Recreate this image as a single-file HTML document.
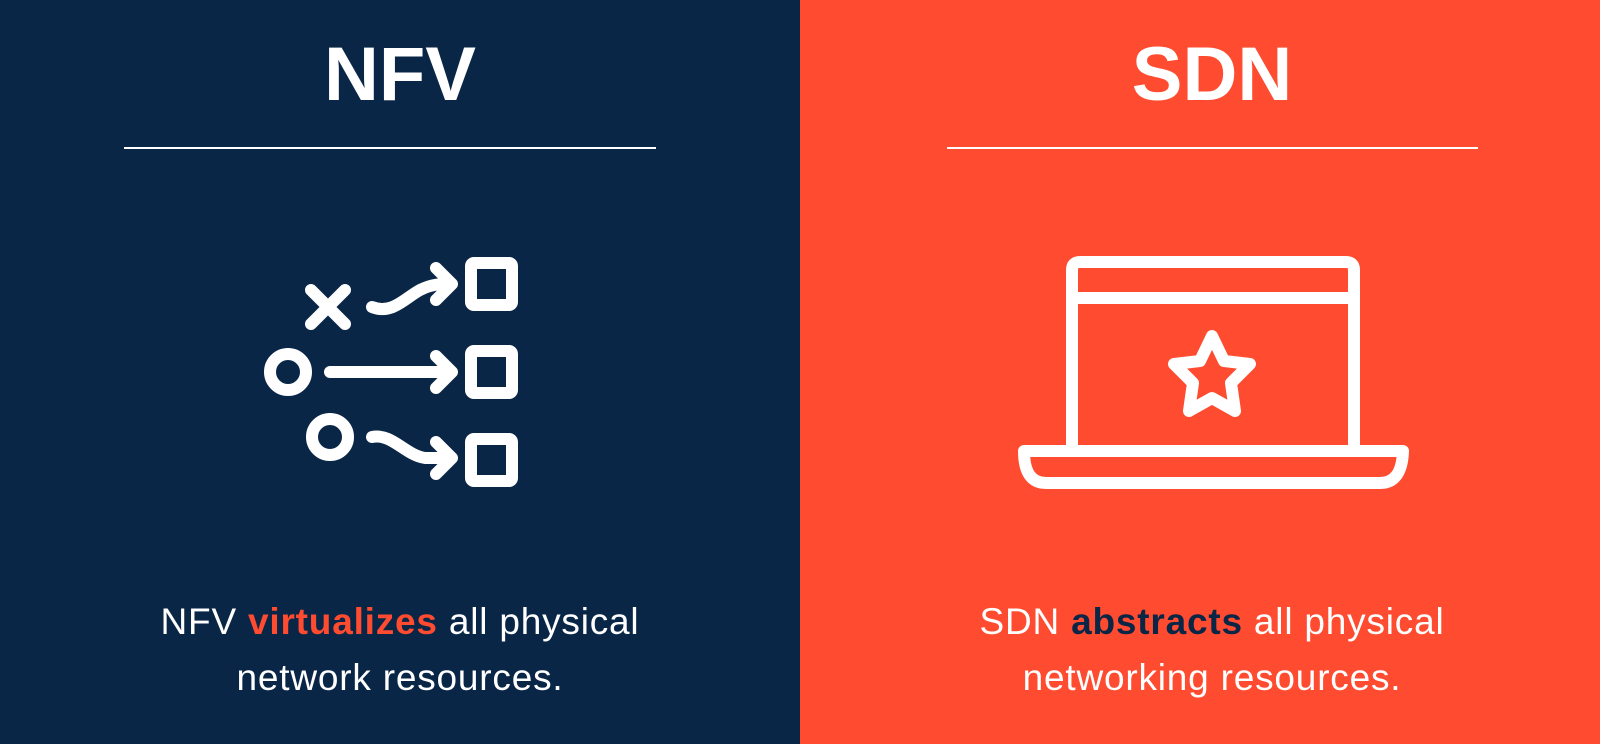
<!DOCTYPE html>
<html><head><style>
body{margin:0;width:1600px;height:744px;overflow:hidden;font-family:"Liberation Sans",sans-serif;}
.p{position:absolute;top:0;height:744px;}
.t{position:absolute;width:100%;text-align:center;color:#fff;font-weight:bold;font-size:76px;top:31px;letter-spacing:0px}
.l{position:absolute;height:2px;background:#fff;top:147px}
.d{position:absolute;width:100%;text-align:center;color:#fff;font-size:37px;line-height:56px;top:594px;letter-spacing:0.8px}
</style></head><body>
<div class="p" style="left:0;width:800px;background:#0a2647">
<div class="t">NFV</div>
<div class="l" style="left:124px;width:532px"></div>
<div class="d">NFV <b style="color:#ff4b2f">virtualizes</b> all physical<br>network resources.</div>
</div>
<div class="p" style="left:800px;width:800px;background:#ff4b2f">
<div class="t" style="left:12px">SDN</div>
<div class="l" style="left:147px;width:531px"></div>
<div class="d" style="left:12px">SDN <b style="color:#0a2647">abstracts</b> all physical<br>networking resources.</div>
</div>
<svg width="1600" height="744" style="position:absolute;left:0;top:0" fill="none" stroke="#fff" stroke-width="12" stroke-linecap="round" stroke-linejoin="round">
<rect x="471" y="263" width="41" height="42" rx="3"/>
<rect x="471" y="351" width="41" height="42" rx="3"/>
<rect x="471" y="439" width="41" height="42" rx="3"/>
<circle cx="288" cy="372" r="18"/>
<circle cx="330" cy="437" r="18"/>
<path d="M311 290L345 324M345 290L311 324"/>
<path d="M330 372H450M436 356L452 372L436 388"/>
<path d="M372 307C392 315 405 298 420 290C432 284 440 284 450 284M436 268L452 284L436 300"/>
<path d="M372 437C392 433 405 455 425 458L450 458M436 442L452 458L436 474"/>
<path d="M1072 446V270Q1072 262 1080 262H1346Q1354 262 1354 270V446M1072 298H1354"/>
<path d="M1024 451H1403Q1402 483 1380 483H1046Q1024 483 1024 451Z"/>
<path d="M1212 336L1224 361L1250 364L1231 383L1235 411L1212 398L1189 411L1193 383L1174 364L1200 361Z"/>
</svg>
</body></html>
